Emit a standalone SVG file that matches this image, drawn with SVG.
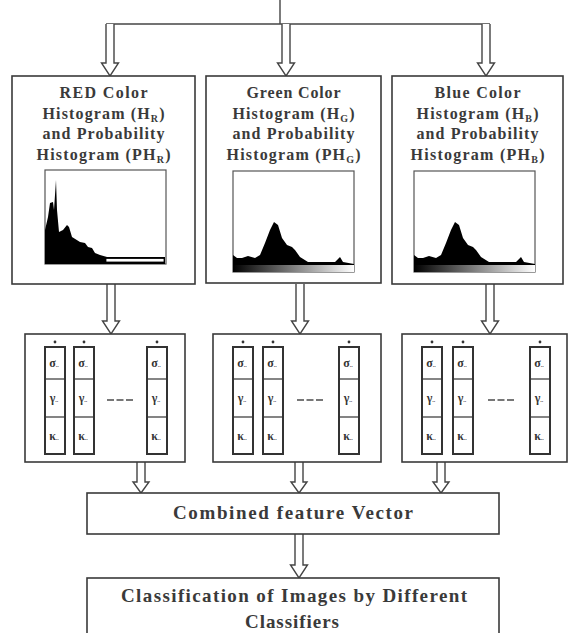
<svg xmlns="http://www.w3.org/2000/svg" xmlns:xlink="http://www.w3.org/1999/xlink" width="569" height="633" viewBox="0 0 569 633">
<style>
.box{fill:#fff;stroke:#3a3a3a;stroke-width:1.6}
.arr{fill:#fff;stroke:#444;stroke-width:1.4;stroke-linejoin:miter}
.ln{fill:none;stroke:#444;stroke-width:1.4}
.t{font-family:"Liberation Serif","Times New Roman",serif;font-weight:bold;fill:#3a3a3a;text-anchor:middle}
.h{font-size:16px}
.b{font-size:19px}
.frame{fill:#fff;stroke:#555;stroke-width:1.2}
.cell{font-family:"Liberation Serif",serif;font-weight:bold;font-size:12px;fill:#333;text-anchor:middle}
.vr{fill:#fff;stroke:#333;stroke-width:2}
.dash{stroke:#777;stroke-width:2;stroke-dasharray:7 2.5}
</style>
<defs>
<linearGradient id="gr" x1="0" y1="0" x2="1" y2="0">
<stop offset="0" stop-color="#000"/>
<stop offset="1" stop-color="#fff"/>
</linearGradient>
<g id="vec">
<circle cx="10" cy="-5" r="1.4" fill="#333"/>
<rect class="vr" x="0" y="0" width="20" height="107"/>
<line x1="0" y1="32" x2="20" y2="32" stroke="#333" stroke-width="1.2"/>
<line x1="0" y1="70" x2="20" y2="70" stroke="#333" stroke-width="1.2"/>
<text class="cell" x="9" y="20">σ<tspan font-size="6">..</tspan></text>
<text class="cell" x="9" y="55">γ<tspan font-size="6">..</tspan></text>
<text class="cell" x="9" y="93">κ<tspan font-size="6">..</tspan></text>
</g>
<g id="histC">
<rect class="frame" x="233" y="171" width="121" height="101"/>
<path d="M233,272 L233,255 L237,258 L242,258 L248,256 L255,258 L260,255 L265,243 L270,230 L274,222 L278,225 L282,238 L287,245 L292,247 L295,250 L300,257 L308,262 L335,262 L340,257 L343,262 L354,264 L354,272 Z" fill="#000"/>
<rect x="233" y="265" width="121" height="7" fill="url(#gr)"/>
</g>
</defs>

<g id="connectors">
<line class="ln" x1="280" y1="0" x2="280" y2="24"/>
<line class="ln" x1="106" y1="24" x2="490" y2="24"/>
<path class="arr" d="M106,24 V63 H101.5 L110,76 L118.5,63 H114 V24"/>
<path class="arr" d="M282,24 V63 H277.5 L286,76 L294.5,63 H290 V24"/>
<path class="arr" d="M482,24 V63 H477.5 L486,76 L494.5,63 H490 V24"/>
<path class="arr" d="M107,284 V321 H102.5 L111,334 L119.5,321 H115 V284"/>
<path class="arr" d="M296,284 V321 H291.5 L300,334 L308.5,321 H304 V284"/>
<path class="arr" d="M486,284 V321 H481.5 L490,334 L498.5,321 H494 V284"/>
<path class="arr" d="M137,462 V482 H133 L141,493 L149,482 H145 V462"/>
<path class="arr" d="M295,462 V482 H291 L299,493 L307,482 H303 V462"/>
<path class="arr" d="M437,462 V482 H433 L441,493 L449,482 H445 V462"/>
<path class="arr" d="M295,534 V565 H290.5 L299,578 L307.5,565 H303 V534"/>
</g>

<g id="red-hist">
<rect class="box" x="12" y="76" width="183" height="208"/>
<text class="t h" x="103.5" y="98" textLength="88">RED Color</text>
<text class="t h" x="103.5" y="119" textLength="122">Histogram (H<tspan font-size="10" dy="3">R</tspan><tspan dy="-3">)</tspan></text>
<text class="t h" x="103.5" y="139" textLength="122">and Probability</text>
<text class="t h" x="103.5" y="160" textLength="134">Histogram (PH<tspan font-size="10" dy="3">R</tspan><tspan dy="-3">)</tspan></text>
<rect class="frame" x="45" y="170" width="121" height="94"/>
<path d="M45,264 L45,230 L48,217 L50,203 L53,202 L54,210 L56,180 L57,210 L59,232 L63,230 L67,225 L69,227 L72,237 L80,242 L85,243 L88,247 L92,248 L95,253 L100,255 L107,257 L165,257 L165,264 Z" fill="#000"/>
<rect x="106" y="258.5" width="58" height="3.5" fill="#fff" stroke="#000" stroke-width="0.8"/>
</g>

<g id="green-hist">
<rect class="box" x="206" y="76" width="175" height="207"/>
<text class="t h" x="293.5" y="98" textLength="94">Green Color</text>
<text class="t h" x="293.5" y="119" textLength="122">Histogram (H<tspan font-size="10" dy="3">G</tspan><tspan dy="-3">)</tspan></text>
<text class="t h" x="293.5" y="139" textLength="122">and Probability</text>
<text class="t h" x="293.5" y="160" textLength="134">Histogram (PH<tspan font-size="10" dy="3">G</tspan><tspan dy="-3">)</tspan></text>
<use xlink:href="#histC"/>
</g>

<g id="blue-hist">
<rect class="box" x="392" y="76" width="171" height="208"/>
<text class="t h" x="477.5" y="98" textLength="86">Blue Color</text>
<text class="t h" x="477.5" y="119" textLength="122">Histogram (H<tspan font-size="10" dy="3">B</tspan><tspan dy="-3">)</tspan></text>
<text class="t h" x="477.5" y="139" textLength="122">and Probability</text>
<text class="t h" x="477.5" y="160" textLength="134">Histogram (PH<tspan font-size="10" dy="3">B</tspan><tspan dy="-3">)</tspan></text>
<use xlink:href="#histC" transform="translate(181,0)"/>
</g>

<g id="red-vectors">
<rect class="box" x="25" y="334" width="160" height="128"/>
<use xlink:href="#vec" x="45" y="347"/>
<use xlink:href="#vec" x="74" y="347"/>
<use xlink:href="#vec" x="147" y="347"/>
<line class="dash" x1="107" y1="400" x2="133" y2="400"/>
</g>

<g id="green-vectors">
<rect class="box" x="213" y="334" width="168" height="128"/>
<use xlink:href="#vec" x="233" y="347"/>
<use xlink:href="#vec" x="263" y="347"/>
<use xlink:href="#vec" x="339" y="347"/>
<line class="dash" x1="297" y1="400" x2="323" y2="400"/>
</g>

<g id="blue-vectors">
<rect class="box" x="402" y="334" width="165" height="128"/>
<use xlink:href="#vec" x="422" y="347"/>
<use xlink:href="#vec" x="453" y="347"/>
<use xlink:href="#vec" x="530" y="347"/>
<line class="dash" x1="488" y1="400" x2="514" y2="400"/>
</g>

<g id="combined">
<rect class="box" x="87" y="493" width="412" height="41"/>
<text class="t b" x="293" y="519" textLength="240">Combined feature Vector</text>
</g>

<g id="classification">
<rect class="box" x="87" y="578" width="412" height="62"/>
<text class="t b" x="294" y="602" textLength="346">Classification of Images by Different</text>
<text class="t b" x="292" y="628" textLength="94">Classifiers</text>
</g>
</svg>
